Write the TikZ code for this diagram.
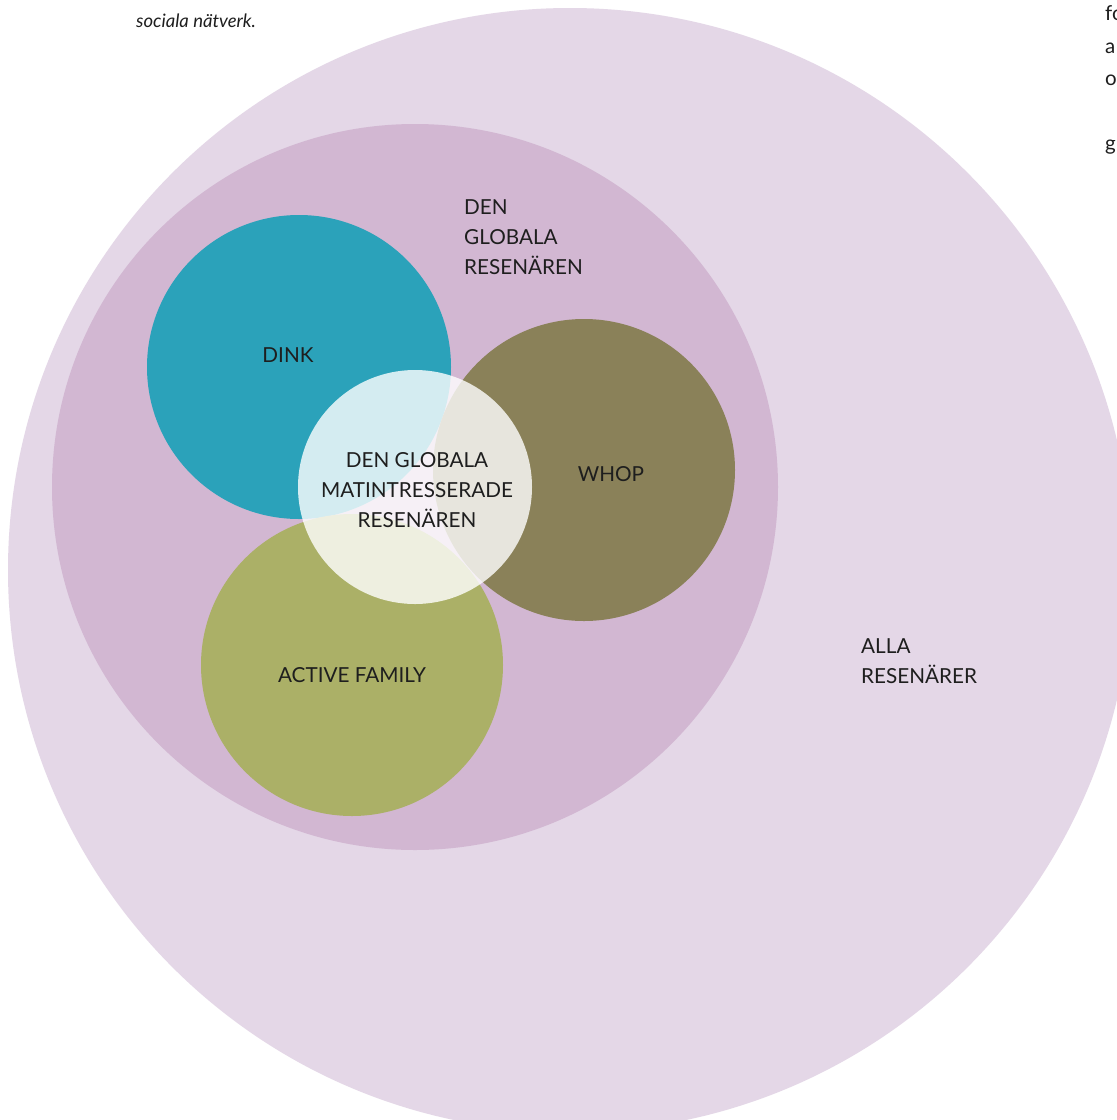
\documentclass[tikz,border=0pt]{standalone}
\usepackage{fontspec}
\setmainfont{Lato}
\definecolor{alla}{HTML}{E4D7E7}
\definecolor{glob}{HTML}{D2B7D2}
\definecolor{dink}{HTML}{2BA2BA}
\definecolor{whop}{HTML}{8A8159}
\definecolor{fam}{HTML}{ABB067}
\definecolor{txt}{HTML}{1E1E1E}
\begin{document}
\begin{tikzpicture}[x=1pt,y=-1pt,
  lbl/.style={inner sep=0pt, text=txt, font=\fontsize{20.7}{30}\selectfont},
  side/.style={inner sep=0pt, text=txt, font=\fontsize{20.5}{30}\selectfont, anchor=base west}]
\useasboundingbox (0,0) rectangle (1117,1120);
\clip (0,0) rectangle (1117,1120);
\fill[white] (0,0) rectangle (1117,1120);
% circles
\fill[alla] (570,570) circle[radius=562pt];
\fill[glob] (415,487) circle[radius=363pt];
\fill[dink] (299,367) circle[radius=152pt];
\fill[whop] (584,470) circle[radius=151pt];
\fill[fam] (352,665) circle[radius=151pt];
\fill[white,opacity=0.8] (415,487) circle[radius=117pt];
% labels
\node[lbl, anchor=west, align=left] (glabel) at (464,237) {DEN\\GLOBALA\\RESENÄREN};
\node[lbl] (dinkl) at (288,355) {DINK};
\node[lbl] (whopl) at (611,474) {WHOP};
\node[lbl, align=center] (centl) at (417,490) {DEN GLOBALA\\MATINTRESSERADE\\RESENÄREN};
\node[lbl] (faml) at (352,675) {ACTIVE FAMILY};
\node[lbl, anchor=west, align=left] (allal) at (861,661) {ALLA\\RESENÄRER};
% cropped page text
\node[inner sep=0pt, anchor=base west, text=txt, font=\fontsize{18.5}{22}\itshape] (soc) at (136,27) {sociala nätverk.};
\node[side] (r1) at (1105,20) {fo};
\node[side] (r2) at (1105,53) {a};
\node[side] (r3) at (1105,85) {o};
\node[side] (r4) at (1105,150) {g};
\end{tikzpicture}
\end{document}
